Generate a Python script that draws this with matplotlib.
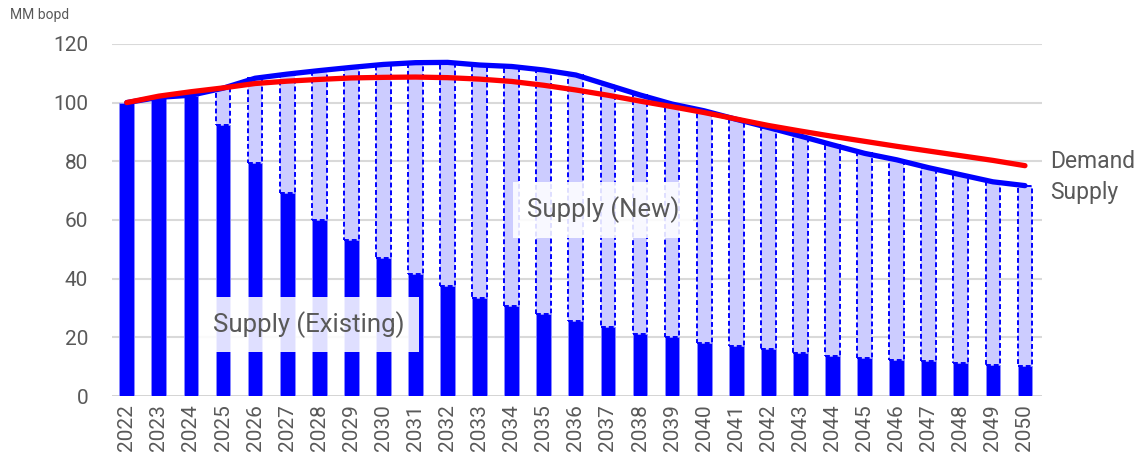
import numpy as np
import matplotlib.pyplot as plt

plt.rcParams['font.family'] = ['Roboto', 'DejaVu Sans']

years = list(range(2022, 2051))
supply_existing = [100.0, 101.5, 102.2, 92.4, 79.3, 69.1, 60.0, 53.0, 46.9, 41.6,
                   37.5, 33.5, 30.7, 27.9, 25.6, 23.4, 21.3, 20.0, 18.2, 16.9,
                   16.0, 14.8, 13.7, 13.1, 12.3, 11.8, 11.1, 10.5, 10.3]
supply_total = [100.0, 101.8, 102.5, 104.9, 108.3, 109.7, 110.9, 112.0, 113.0, 113.6,
                113.7, 112.8, 112.3, 111.1, 109.4, 106.0, 102.6, 99.5, 97.2, 94.3,
                91.5, 88.6, 85.6, 82.7, 80.5, 77.8, 75.4, 73.0, 71.7]
demand = [100.0, 102.2, 103.7, 105.0, 106.5, 107.3, 107.9, 108.4, 108.6, 108.7,
          108.5, 108.0, 107.2, 105.9, 104.3, 102.5, 100.5, 98.6, 96.6, 94.4,
          92.2, 90.3, 88.5, 86.8, 85.1, 83.5, 81.9, 80.3, 78.5]

grey = '#595959'
x = np.arange(len(years))
existing = np.array(supply_existing)
new = np.array(supply_total) - existing

fig = plt.figure(figsize=(11.4, 4.67), dpi=100)
ax = fig.add_axes([0.098, 0.152, 0.816, 0.754])

for y in range(20, 121, 20):
    ax.axhline(y, color='#d9d9d9', lw=1.5, zorder=0)
ax.axhline(0, color='#d0d0d0', lw=2, zorder=0)

w = 0.46
ax.bar(x, existing, width=w, color='#0000ff', edgecolor='#8c8cff', linewidth=0.6, zorder=2)
has_new = new > 0.5
ax.bar(x[has_new], new[has_new], bottom=existing[has_new], width=w,
       color='#ccccff', edgecolor='#0000ff', linewidth=1.4, linestyle=(0, (2.5, 1.5)), zorder=2)

ax.plot(x, supply_total, color='#0000ff', lw=3.8, solid_capstyle='round',
        solid_joinstyle='round', zorder=4)
ax.plot(x, demand, color='#ff0000', lw=3.8, solid_capstyle='round',
        solid_joinstyle='round', zorder=5)

box = dict(boxstyle='square,pad=0.55', facecolor='white', edgecolor='none', alpha=0.88)
ax.text(5.67, 24.5, 'Supply (Existing)', fontsize=18.5, color=grey,
        ha='center', va='center', bbox=box, zorder=3)
ax.text(14.84, 63.4, 'Supply (New)', fontsize=18.5, color=grey,
        ha='center', va='center', bbox=box, zorder=3)

ax.text(28.78, demand[-1] + 1.3, 'Demand', fontsize=16.5, color=grey,
        ha='left', va='center', clip_on=False)
ax.text(28.78, supply_total[-1] - 2.4, 'Supply', fontsize=16.5, color=grey,
        ha='left', va='center', clip_on=False)

ax.set_xlim(-0.47, 28.53)
ax.set_ylim(0, 120)
ax.set_xticks(x)
ax.set_xticklabels([str(yr) for yr in years], rotation=90, fontsize=15, color=grey)
ax.set_yticks(range(0, 121, 20))
ax.tick_params(axis='y', labelsize=15, labelcolor=grey, length=0, pad=17)
ax.tick_params(axis='x', length=0, pad=6)
for s in ax.spines.values():
    s.set_visible(False)

fig.text(0.009, 0.968, 'MM bopd', fontsize=10, color=grey, ha='left', va='center')

fig.savefig('out.png', dpi=100)
